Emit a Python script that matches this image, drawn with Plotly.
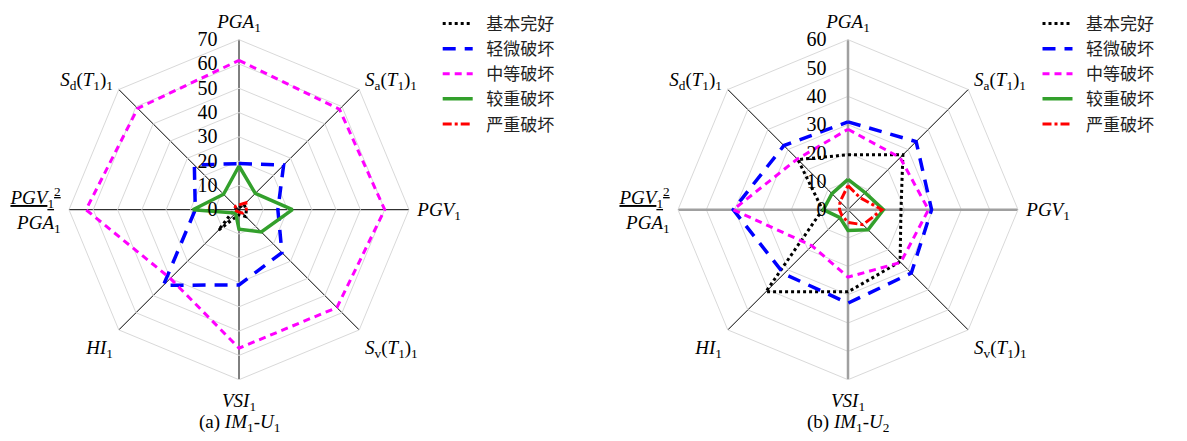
import plotly.graph_objects as go

# ---- data ----
axis_labels = [
    "<i>PGA</i><sub>1</sub>",
    "<i>S</i><sub>a</sub>(<i>T</i><sub>1</sub>)<sub>1</sub>",
    "<i>PGV</i><sub>1</sub>",
    "<i>S</i><sub>v</sub>(<i>T</i><sub>1</sub>)<sub>1</sub>",
    "<i>VSI</i><sub>1</sub>",
    "<i>HI</i><sub>1</sub>",
    "<u><i>PGV</i><sub>1</sub><sup>2</sup></u><br><i>PGA</i><sub>1</sub>",
    "<i>S</i><sub>d</sub>(<i>T</i><sub>1</sub>)<sub>1</sub>",
]
series_names = ["基本完好", "轻微破坏", "中等破坏", "较重破坏", "严重破坏"]

# (a) IM1-U1
a_basic    = [1, 3, 3, 4, 2, 12, 2, 1]
a_slight   = [19, 26, 16, 25, 31, 44, 18, 26]
a_moderate = [61.5, 58.5, 60, 57, 57, 40, 63, 59]
a_severe   = [18, 9.5, 22, 13, 8, 2, 19, 9]
a_collapse = [2, 4, 3, 2, 1, 1, 2, 2]

# (b) IM1-U2
b_basic    = [19.4, 27.4, 18.7, 26, 29, 41, 9, 25]
b_slight   = [31, 34, 29.5, 31.6, 33, 32, 40.5, 32]
b_moderate = [28.4, 26, 28.4, 26.3, 23.8, 18, 40.5, 25.3]
b_severe   = [10.7, 8.5, 12.5, 10, 7.3, 4, 8.7, 8]
b_collapse = [8.5, 6, 12, 7.5, 4.5, 3, 3, 4]

a_max, b_max = 70, 60

styles = [
    dict(color="black", dash="dot", width=3),
    dict(color="#0000ff", dash="13px,9px", width=3.5),
    dict(color="#ff00ff", dash="7px,5px", width=3),
    dict(color="#33a02c", dash="solid", width=3.5),
    dict(color="#ff0000", dash="dashdot", width=3),
]

# page body margin: figure is drawn at (8, 8) inside the window
W, H = 1171, 425
OX, OY = 8, 6

fig = go.Figure()

def closed(v):
    return list(v) + [v[0]]

th = closed(axis_labels)

for data, sub, leg in [((a_basic, a_slight, a_moderate, a_severe, a_collapse), "polar", "legend"),
                       ((b_basic, b_slight, b_moderate, b_severe, b_collapse), "polar2", "legend2")]:
    if sub == "polar2":
        # gray vertical and horizontal spokes of panel (b)
        for i in [0, 2]:
            fig.add_trace(go.Scatterpolar(r=[b_max, 0, b_max],
                                          theta=[axis_labels[i], axis_labels[i], axis_labels[i + 4]],
                                          mode="lines", line=dict(color="#a0a0a0", width=2.5),
                                          showlegend=False, hoverinfo="skip", subplot=sub))
    for name, vals, st in zip(series_names, data, styles):
        fig.add_trace(go.Scatterpolar(r=closed(vals), theta=th, mode="lines",
                                      name="\u2002" + name,
                                      line=st, subplot=sub, legend=leg))

serif = "Liberation Serif, Times New Roman, serif"

def polar_layout(cx_win, rmax):
    R = 170
    cx = cx_win - OX
    cy = 207.7 - OY
    return dict(
        domain=dict(x=[(cx - R) / W, (cx + R) / W], y=[(H - cy - R) / H, (H - cy + R) / H]),
        gridshape="linear",
        bgcolor="white",
        radialaxis=dict(range=[0, rmax], dtick=10, angle=90, tickangle=90,
                        side="counterclockwise",
                        showline=False, ticks="outside", ticklen=14, tickcolor="rgba(0,0,0,0)",
                        gridcolor="#d9d9d9", gridwidth=1,
                        tickfont=dict(family=serif, size=20, color="black")),
        angularaxis=dict(type="category", categoryorder="array", categoryarray=axis_labels,
                         rotation=90, direction="clockwise",
                         showgrid=True, gridcolor="black", gridwidth=1,
                         linecolor="#d9d9d9", linewidth=1,
                         ticks="outside", ticklen=4, tickcolor="rgba(0,0,0,0)",
                         tickfont=dict(family=serif, size=19, color="black")),
    )

legend_font = dict(family="Noto Sans CJK SC", size=17, color="#222")

def cap(text, cx_win):
    return dict(text=text, x=(cx_win - 8) / W, y=1 - (423 - 8) / H,
                xref="paper", yref="paper", showarrow=False,
                xanchor="center", yanchor="middle",
                font=dict(family=serif, size=19, color="black"))

fig.update_layout(
    width=W, height=H,
    margin=dict(l=0, r=0, t=0, b=0, autoexpand=False),
    paper_bgcolor="white",
    polar=polar_layout(239, a_max),
    polar2=polar_layout(848, b_max),
    legend=dict(x=429.7 / W, y=1.0047, xanchor="left", yanchor="top",
                font=legend_font, bgcolor="rgba(0,0,0,0)", tracegroupgap=0),
    legend2=dict(x=1029.5 / W, y=1.0047, xanchor="left", yanchor="top",
                 font=legend_font, bgcolor="rgba(0,0,0,0)", tracegroupgap=0),
    annotations=[
        cap("(a) <i>IM</i><sub>1</sub>-<i>U</i><sub>1</sub>", 239),
        cap("(b) <i>IM</i><sub>1</sub>-<i>U</i><sub>2</sub>", 848),
    ],
)

fig.write_html("out.html")
